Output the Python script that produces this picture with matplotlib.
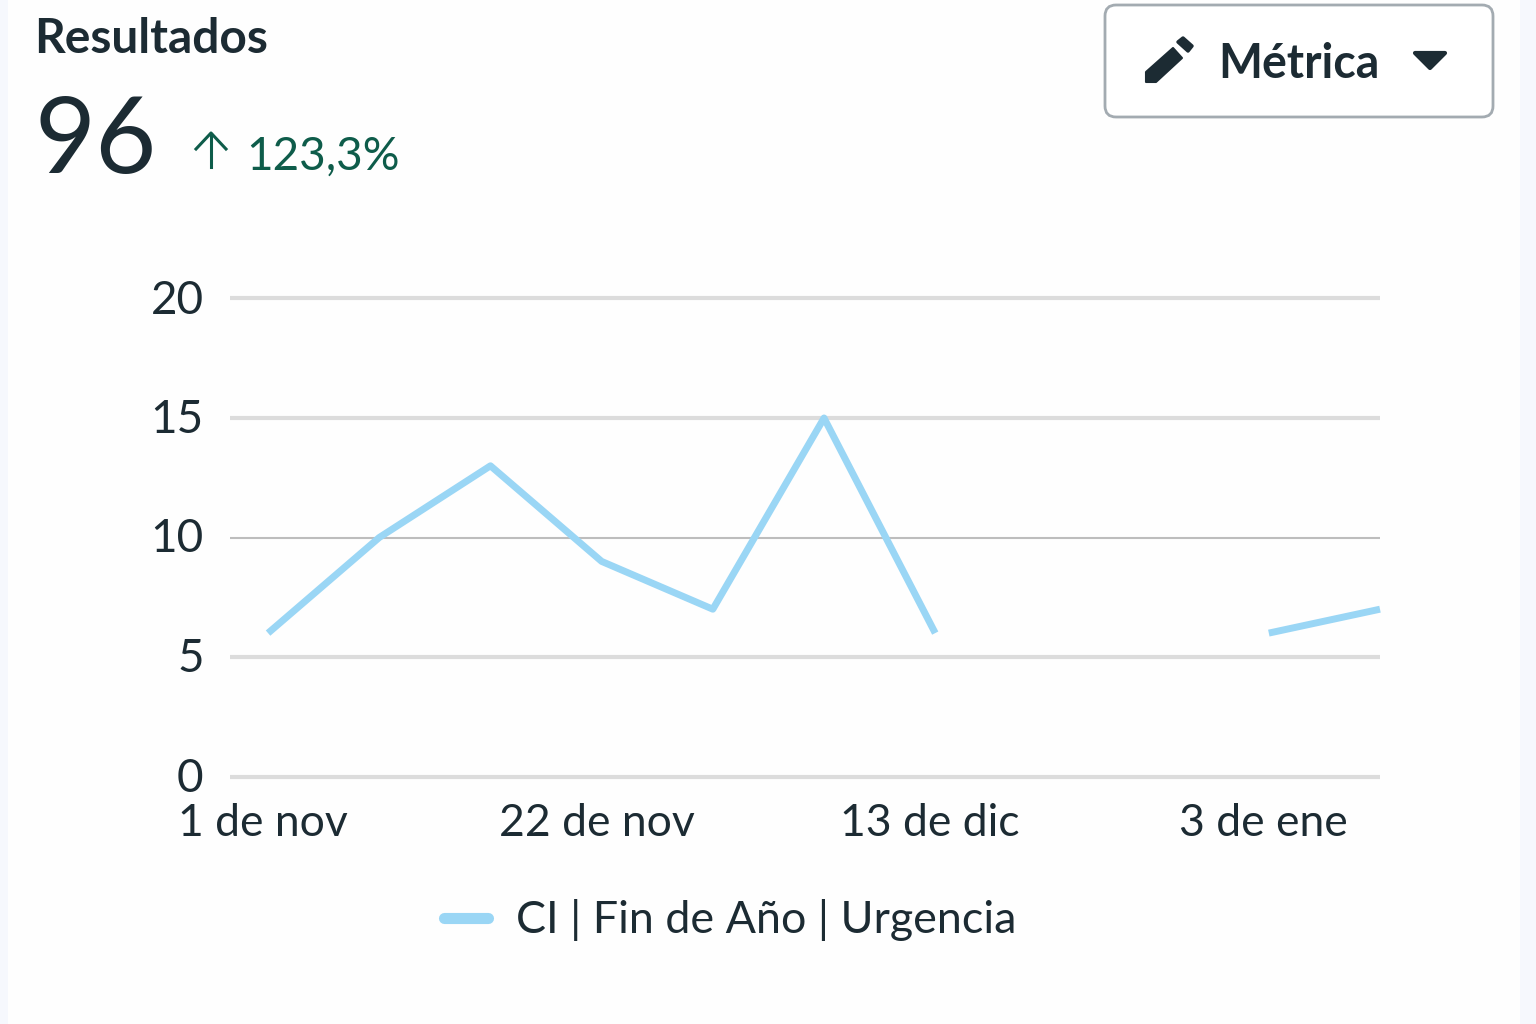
import numpy as np
import matplotlib
matplotlib.use("Agg")
import matplotlib.pyplot as plt
from matplotlib.patches import FancyBboxPatch, Polygon
from matplotlib.transforms import ScaledTranslation

# data
dates = [0, 1, 2, 3, 4, 5, 6, 7, 8, 9, 10]
values = [6, 10, 13, 9, 7, 15, 6, np.nan, np.nan, 6, 7]
yticks = [0, 5, 10, 15, 20]
xtick_pos = [0, 3, 6, 9]
xtick_labels = ["1 de nov", "22 de nov", "13 de dic", "3 de ene"]
series_name = "CI | Fin de Año | Urgencia"

plt.rcParams['font.family'] = ['Lato', 'DejaVu Sans']
dark = "#1c2b33"
blue = "#9ad6f5"
green = "#0e5c4a"

fig = plt.figure(figsize=(15.36, 10.24), dpi=100, facecolor="#fefefe")
W, H = 1536.0, 1024.0

# full figure overlay in pixel coords
bg = fig.add_axes([0, 0, 1, 1])
bg.set_xlim(0, W)
bg.set_ylim(H, 0)
bg.axis("off")
bg.add_patch(plt.Rectangle((0, 0), 8, H, color="#f6f8fd", lw=0))
bg.add_patch(plt.Rectangle((1520, 0), 16, H, color="#f6f8fd", lw=0))

bg.text(34, 39, "Resultados", fontsize=34.5, fontweight="bold", color=dark, va="center")
bg.text(35, 143, "96", fontsize=76, color=dark, va="center")
bg.text(246, 157, "123,3%", fontsize=33, color=green, va="center")
bg.plot([211, 211], [134, 167], color=green, lw=2.2)
bg.plot([196, 211, 226], [149, 133, 149], color=green, lw=2.2)

# button
bg.add_patch(FancyBboxPatch((1105, 5), 388, 112, boxstyle="round,pad=0,rounding_size=11",
                            fc="white", ec="#a3abb1", lw=2))
bg.text(1218, 64, "Métrica", fontsize=33.5, fontweight="bold", color=dark, va="center")
bg.add_patch(Polygon([(1415, 53), (1445, 53), (1430, 68)], closed=True, fc=dark, ec=dark, lw=3, joinstyle="round"))
# pencil
bg.add_patch(Polygon([(1146, 72), (1173, 48), (1182, 58), (1156, 82), (1146, 82)], closed=True, fc=dark, ec=dark, lw=1.5, joinstyle="round"))
bg.add_patch(Polygon([(1178, 42), (1183, 38), (1192, 46), (1188, 51)], closed=True, fc=dark, ec=dark, lw=2.5, joinstyle="round"))

# chart
left, right, top, bottom = 230, 1380, 298.5, 776.5
ax = fig.add_axes([left / W, 1 - bottom / H, (right - left) / W, (bottom - top) / H])
ax.set_facecolor("none")
x_per_px = 3 / 333.0
ax.set_xlim(-38 * x_per_px, 10.0)
ax.set_ylim(0, 20)
for s in ax.spines.values():
    s.set_visible(False)
ax.set_yticks(yticks)
ax.set_xticks(xtick_pos)
ax.set_xticklabels(xtick_labels)
ax.tick_params(axis="y", length=0, labelsize=33, labelcolor=dark, pad=19)
ax.tick_params(axis="x", length=0, labelsize=32, labelcolor=dark, pad=19)
ax.grid(axis="y", color="#dcdcdc", lw=3)
ax.set_axisbelow(True)
shift = ScaledTranslation(0, -2 / 100, fig.dpi_scale_trans)
for lab in ax.get_yticklabels():
    lab.set_verticalalignment("center")
    lab.set_transform(lab.get_transform() + shift)
shift_x = ScaledTranslation(-5 / 100, 0, fig.dpi_scale_trans)
for lab in ax.get_xticklabels():
    lab.set_transform(lab.get_transform() + shift_x)
# outer lines should not get clipped, the one at 10 is thinner and darker
for val, gl in zip(yticks, ax.get_ygridlines()):
    gl.set_clip_on(False)
    gl.set_solid_capstyle("butt")
    if val == 10:
        gl.set_linewidth(1.5)
        gl.set_color("#bdbdbd")

ax.plot(dates, values, color=blue, lw=5, clip_on=False, solid_capstyle="butt", label=series_name)

bg.plot([444, 488], [918, 918], color=blue, lw=8, solid_capstyle="round")
bg.text(516, 920, series_name, fontsize=32.3, color=dark, va="center")

fig.savefig("out.png", dpi=100, facecolor=fig.get_facecolor())
